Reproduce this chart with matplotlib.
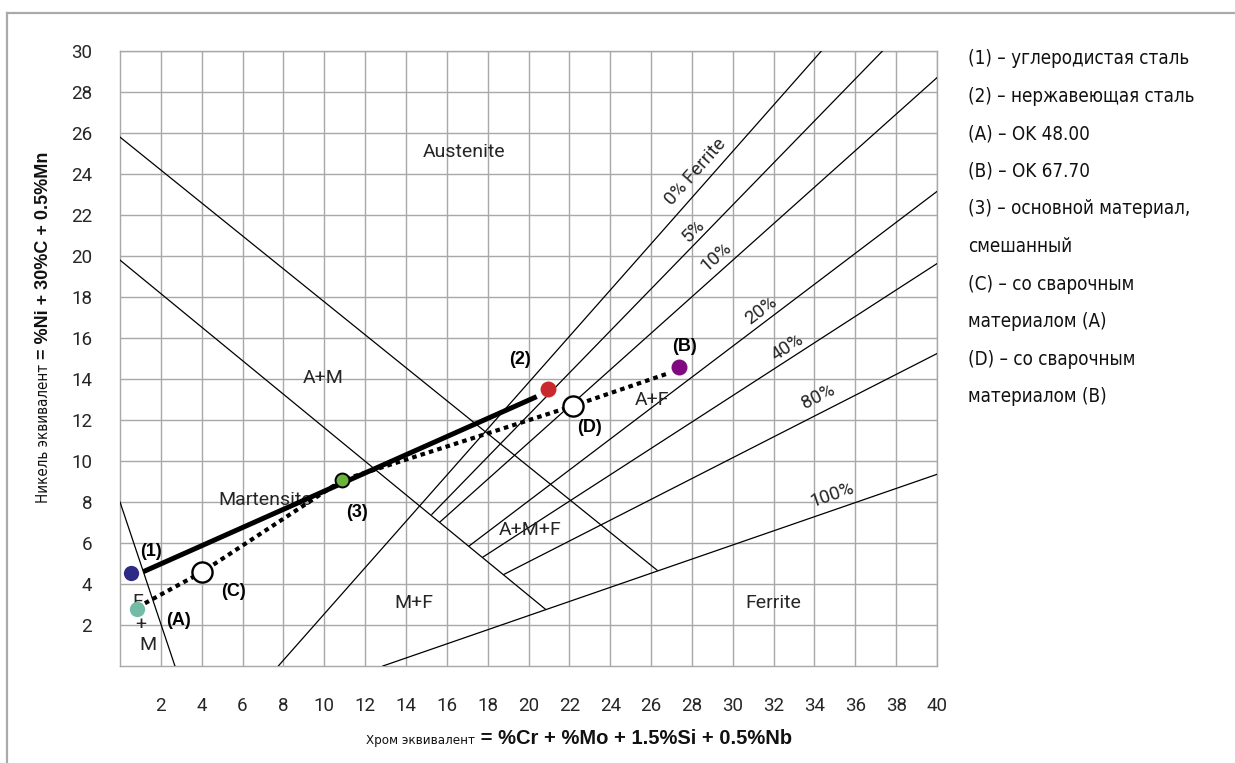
import numpy as np
import matplotlib
matplotlib.use("Agg")
import matplotlib.pyplot as plt
from matplotlib.lines import Line2D

# --- diagram data (Cr equivalent on x, Ni equivalent on y) ---
cr_ticks = list(range(2, 41, 2))
ni_ticks = list(range(2, 31, 2))

austenite_cr = [0, 26.3]
austenite_ni = [25.8, 4.67]
martensite_cr = [0, 20.84]
martensite_ni = [19.8, 2.76]
fm_cr = [0, 2.69]
fm_ni = [8.0, 0]
full_ferrite_cr = [12.87, 40]
full_ferrite_ni = [0, 9.35]

ferrite_labels = ["0% Ferrite", "5%", "10%", "20%", "40%", "80%", "100%"]
ferrite_cr0 = [7.75, 15.27, 15.67, 17.1, 17.78, 18.8]
ferrite_ni0 = [0, 7.4, 7.03, 5.86, 5.32, 4.47]
ferrite_cr1 = [34.34, 37.33, 40, 40, 40, 40]
ferrite_ni1 = [30, 30, 28.7, 23.15, 19.63, 15.24]
ferrite_lab_cr = [28.2, 28.1, 29.2, 31.4, 32.7, 34.2, 34.85]
ferrite_lab_ni = [24.1, 21.25, 19.95, 17.35, 15.56, 13.14, 8.34]

regions = ["Austenite", "A+M", "Martensite", "M+F", "A+M+F", "A+F", "Ferrite", "F", "+", "M"]
region_cr = [16.85, 9.94, 7.1, 14.4, 20.07, 26.03, 31.97, 0.85, 1.01, 1.35]
region_ni = [25.07, 14.07, 8.1, 3.07, 6.63, 12.98, 3.07, 3.14, 2.0, 1.02]

# materials
steel1 = (0.52, 4.52)
steelA = (0.83, 2.78)
pointC = (4.0, 4.57)
point3 = (10.89, 9.07)
steel2 = (20.97, 13.5)
pointD = (22.16, 12.68)
steelB = (27.37, 14.57)

mix_solid_cr = [1.14, 20.4]
mix_solid_ni = [4.6, 13.14]
mix_dotted_cr = [1.22, 4.0, 10.89, 22.16, 26.85]
mix_dotted_ni = [3.06, 4.57, 9.07, 12.68, 14.28]

point_labels = ["(1)", "(A)", "(C)", "(3)", "(2)", "(D)", "(B)"]
point_lab_cr = [1.5, 2.86, 5.58, 11.59, 19.58, 23.01, 27.66]
point_lab_ni = [5.58, 2.24, 3.63, 7.48, 14.93, 11.64, 15.6]

legend_lines = [
    "(1) – углеродистая сталь",
    "(2) – нержавеющая сталь",
    "(A) – OK 48.00",
    "(B) – OK 67.70",
    "(3) – основной материал,",
    "смешанный",
    "(C) – со сварочным",
    "материалом (A)",
    "(D) – со сварочным",
    "материалом (B)",
]

W, H = 1235, 763
SANS = ["Liberation Sans", "DejaVu Sans"]
LIGHT = ["Roboto", "DejaVu Sans"]
GRID = "#a8a8a8"
TXT = "#262626"
narrow = dict(family="DejaVu Sans", stretch="condensed")

fig = plt.figure(figsize=(W / 100, H / 100), dpi=100)
ax = fig.add_axes([120 / W, 1 - 666 / H, 817 / W, 615 / H])
ax.set_xlim(0, 40)
ax.set_ylim(0, 30)
ax.set_xticks(cr_ticks)
ax.set_yticks(ni_ticks)
ax.grid(color=GRID, lw=1.0)
ax.tick_params(length=0)
ax.tick_params(axis="x", pad=22, labelsize=13.5, labelcolor=TXT)
ax.tick_params(axis="y", pad=20, labelsize=13.5, labelcolor=TXT)
for lab in ax.get_xticklabels() + ax.get_yticklabels():
    lab.set_family(LIGHT)
for s in ax.spines.values():
    s.set_color(GRID)
    s.set_linewidth(1.0)

lk = dict(color="black", lw=0.9, zorder=3)
ax.plot(austenite_cr, austenite_ni, **lk)
ax.plot(martensite_cr, martensite_ni, **lk)
ax.plot(fm_cr, fm_ni, **lk)
ax.plot(full_ferrite_cr, full_ferrite_ni, **lk)
for c0, n0, c1, n1 in zip(ferrite_cr0, ferrite_ni0, ferrite_cr1, ferrite_ni1):
    ax.plot([c0, c1], [n0, n1], **lk)

# rotation of the labels follows the lines on screen
def screen_angle(c0, n0, c1, n1):
    p0 = ax.transData.transform((c0, n0))
    p1 = ax.transData.transform((c1, n1))
    return np.degrees(np.arctan2(p1[1] - p0[1], p1[0] - p0[0]))

angles = [screen_angle(*v) for v in zip(ferrite_cr0, ferrite_ni0, ferrite_cr1, ferrite_ni1)]
angles.append(screen_angle(full_ferrite_cr[0], full_ferrite_ni[0], full_ferrite_cr[1], full_ferrite_ni[1]))
for lab, c, n, a in zip(ferrite_labels, ferrite_lab_cr, ferrite_lab_ni, angles):
    ax.text(c, n, lab, rotation=a, rotation_mode="anchor", ha="center", va="center",
            fontsize=13.5, color=TXT, family=LIGHT, zorder=4)

for lab, c, n in zip(regions, region_cr, region_ni):
    ax.text(c, n, lab, ha="center", va="center", fontsize=14, color=TXT,
            family=LIGHT, zorder=4)

# mixing lines
ax.plot(mix_solid_cr, mix_solid_ni, color="black", lw=3.6, solid_capstyle="butt", zorder=5)
ax.plot(mix_dotted_cr, mix_dotted_ni, color="black", lw=3.0, dashes=(1.1, 1.0),
        dash_capstyle="butt", zorder=5)

ax.plot(*steel1, "o", ms=11, color="#2e2a86", mec="none", zorder=6)
ax.plot(*steelA, "o", ms=11, color="#72bba4", mec="none", zorder=6)
ax.plot(*steel2, "o", ms=11.5, color="#c9282c", mec="none", zorder=6)
ax.plot(*steelB, "o", ms=11.5, color="#7f0a80", mec="none", zorder=6)
ax.plot(*point3, "o", ms=10, color="#6ab43e", mec="black", mew=1.4, zorder=6)
ax.plot(*pointC, "o", ms=14.5, color="white", mec="black", mew=1.7, zorder=6)
ax.plot(*pointD, "o", ms=14.5, color="white", mec="black", mew=1.7, zorder=6)

for lab, c, n in zip(point_labels, point_lab_cr, point_lab_ni):
    ax.text(c, n, lab, ha="center", va="center", fontsize=13, fontweight="bold",
            color="black", family=SANS, zorder=7)

# legend text on the right
for i, line in enumerate(legend_lines):
    fig.text(968 / W, 1 - (58.5 + i * 37.6) / H, line, ha="left", va="center",
             fontsize=13.5, color="#111", **narrow)

# axis titles in two fonts
fig.canvas.draw()
renderer = fig.canvas.get_renderer()

xl1 = fig.text(366 / W, 1 - 744 / H, "Хром эквивалент", ha="left", va="baseline",
               fontsize=9.5, color="#111", **narrow)
bb = xl1.get_window_extent(renderer)
fig.text(bb.x1 / W, 1 - 744 / H, " = %Cr + %Mo + 1.5%Si + 0.5%Nb", ha="left", va="baseline",
         fontsize=14.5, fontweight="bold", color="#111", family=SANS)

yl1 = fig.text(48 / W, 1 - 503 / H, "Никель эквивалент", rotation=90, rotation_mode="anchor",
               ha="left", va="baseline", fontsize=10.8, color="#111", **narrow)
bb = yl1.get_window_extent(renderer)
fig.text(48 / W, bb.y1 / H, " = %Ni + 30%C + 0.5%Mn", rotation=90, rotation_mode="anchor",
         ha="left", va="baseline", fontsize=13, fontweight="bold", color="#111", family=SANS)

# outer frame (top and left edges visible)
fig.add_artist(Line2D([7 / W, 1], [1 - 13 / H, 1 - 13 / H], color="#aaaaaa", lw=1.6))
fig.add_artist(Line2D([7 / W, 7 / W], [0, 1 - 13 / H], color="#aaaaaa", lw=1.6))

fig.savefig("out.png", dpi=100)
